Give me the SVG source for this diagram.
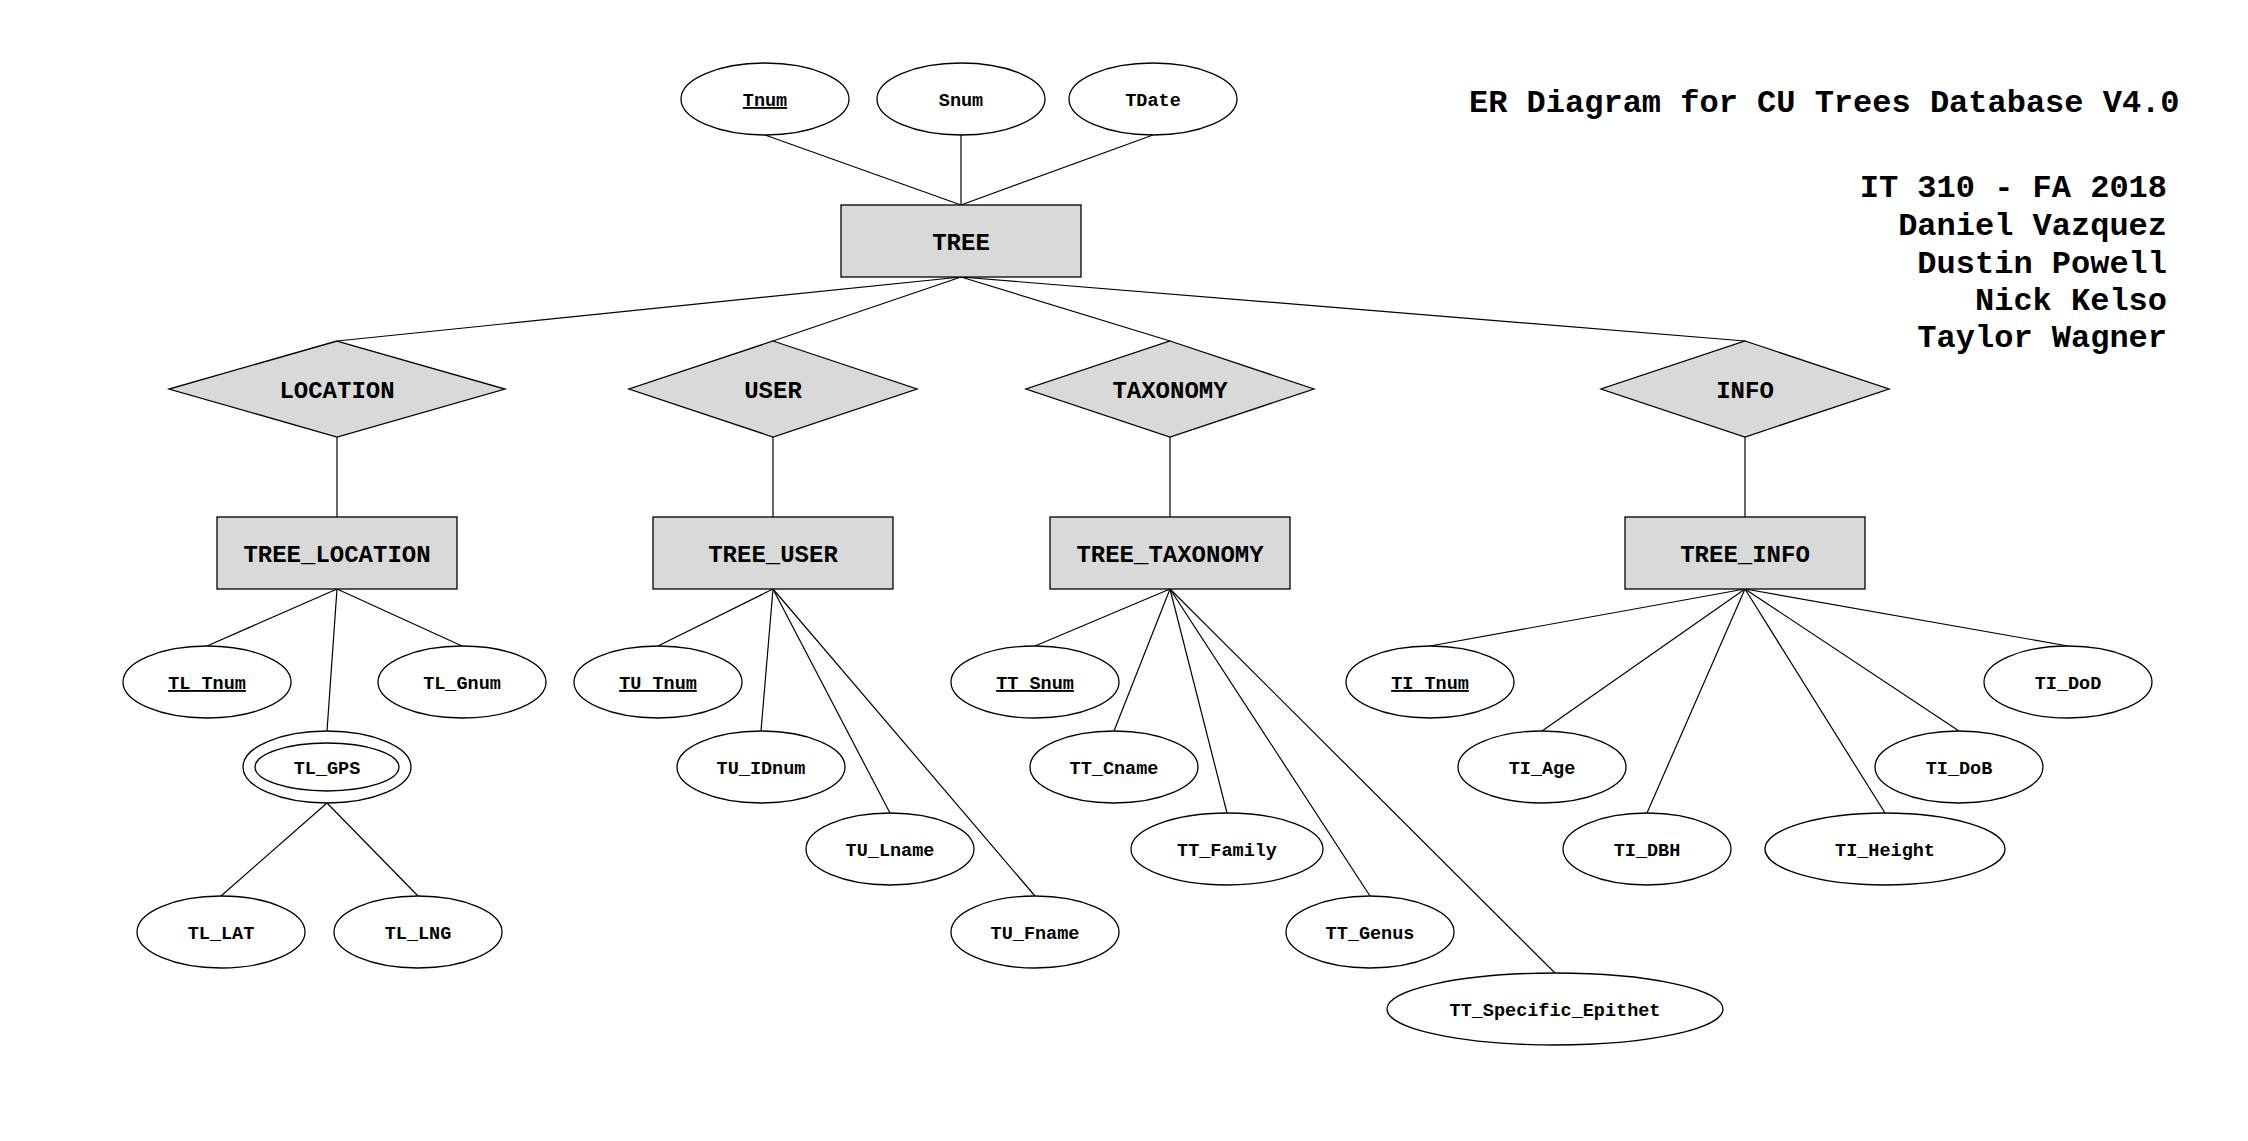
<svg xmlns="http://www.w3.org/2000/svg" width="2248" height="1141" viewBox="0 0 2248 1141">
<style>
  .bg { fill: #ffffff; }
  .ent { fill: #d9d9d9; stroke: #000; stroke-width: 1.3; }
  .rel { fill: #d9d9d9; stroke: #000; stroke-width: 1.3; }
  .att { fill: #ffffff; stroke: #000; stroke-width: 1.3; }
  .conn line { stroke: #000; stroke-width: 1.2; }
  text { font-family: "Liberation Mono", "Courier New", monospace; font-weight: bold; fill: #000; }
  .lbl { font-size: 24px; text-anchor: middle; }
  .albl { font-size: 18.5px; text-anchor: middle; }
  .key { text-decoration: underline; }
  .title { font-size: 32px; }
  .auth { font-size: 32px; text-anchor: end; }
</style>
<rect class="bg" x="0" y="0" width="2248" height="1141"/>

<g id="connectors" class="conn">
  <line x1="765" y1="135" x2="961" y2="205"/>
  <line x1="961" y1="135" x2="961" y2="205"/>
  <line x1="1153" y1="135" x2="961" y2="205"/>
  <line x1="961" y1="277" x2="337" y2="341"/>
  <line x1="961" y1="277" x2="773" y2="341"/>
  <line x1="961" y1="277" x2="1170" y2="341"/>
  <line x1="961" y1="277" x2="1745" y2="341"/>
  <line x1="337" y1="437" x2="337" y2="517"/>
  <line x1="773" y1="437" x2="773" y2="517"/>
  <line x1="1170" y1="437" x2="1170" y2="517"/>
  <line x1="1745" y1="437" x2="1745" y2="517"/>
  <line x1="337" y1="589" x2="207" y2="646"/>
  <line x1="337" y1="589" x2="462" y2="646"/>
  <line x1="337" y1="589" x2="327" y2="731"/>
  <line x1="327" y1="803" x2="221" y2="896"/>
  <line x1="327" y1="803" x2="418" y2="896"/>
  <line x1="773" y1="589" x2="658" y2="646"/>
  <line x1="773" y1="589" x2="761" y2="731"/>
  <line x1="773" y1="589" x2="890" y2="813"/>
  <line x1="773" y1="589" x2="1035" y2="896"/>
  <line x1="1170" y1="589" x2="1035" y2="646"/>
  <line x1="1170" y1="589" x2="1114" y2="731"/>
  <line x1="1170" y1="589" x2="1227" y2="813"/>
  <line x1="1170" y1="589" x2="1370" y2="896"/>
  <line x1="1170" y1="589" x2="1555" y2="973"/>
  <line x1="1745" y1="589" x2="1430" y2="646"/>
  <line x1="1745" y1="589" x2="1542" y2="731"/>
  <line x1="1745" y1="589" x2="1647" y2="813"/>
  <line x1="1745" y1="589" x2="1885" y2="813"/>
  <line x1="1745" y1="589" x2="1959" y2="731"/>
  <line x1="1745" y1="589" x2="2068" y2="646"/>
</g>

<g id="title">
  <text class="title" x="1469" y="112">ER Diagram for CU Trees Database V4.0</text>
  <text class="auth" x="2167" y="197">IT 310 - FA 2018</text>
  <text class="auth" x="2167" y="235">Daniel Vazquez</text>
  <text class="auth" x="2167" y="273">Dustin Powell</text>
  <text class="auth" x="2167" y="310">Nick Kelso</text>
  <text class="auth" x="2167" y="347">Taylor Wagner</text>
</g>

<!-- TREE entity and its attributes -->
<g id="attr-Tnum"><ellipse class="att" cx="765" cy="99" rx="84" ry="36"/><text class="albl key" x="765" y="106">Tnum</text></g>
<g id="attr-Snum"><ellipse class="att" cx="961" cy="99" rx="84" ry="36"/><text class="albl" x="961" y="106">Snum</text></g>
<g id="attr-TDate"><ellipse class="att" cx="1153" cy="99" rx="84" ry="36"/><text class="albl" x="1153" y="106">TDate</text></g>
<g id="ent-TREE"><rect class="ent" x="841" y="205" width="240" height="72"/><text class="lbl" x="961" y="250">TREE</text></g>

<!-- Relationships -->
<g id="rel-LOCATION"><polygon class="rel" points="337,341 505,389 337,437 169,389"/><text class="lbl" x="337" y="398">LOCATION</text></g>
<g id="rel-USER"><polygon class="rel" points="773,341 917,389 773,437 629,389"/><text class="lbl" x="773" y="398">USER</text></g>
<g id="rel-TAXONOMY"><polygon class="rel" points="1170,341 1314,389 1170,437 1026,389"/><text class="lbl" x="1170" y="398">TAXONOMY</text></g>
<g id="rel-INFO"><polygon class="rel" points="1745,341 1889,389 1745,437 1601,389"/><text class="lbl" x="1745" y="398">INFO</text></g>

<!-- Entities -->
<g id="ent-TREE_LOCATION"><rect class="ent" x="217" y="517" width="240" height="72"/><text class="lbl" x="337" y="562">TREE_LOCATION</text></g>
<g id="ent-TREE_USER"><rect class="ent" x="653" y="517" width="240" height="72"/><text class="lbl" x="773" y="562">TREE_USER</text></g>
<g id="ent-TREE_TAXONOMY"><rect class="ent" x="1050" y="517" width="240" height="72"/><text class="lbl" x="1170" y="562">TREE_TAXONOMY</text></g>
<g id="ent-TREE_INFO"><rect class="ent" x="1625" y="517" width="240" height="72"/><text class="lbl" x="1745" y="562">TREE_INFO</text></g>

<!-- TREE_LOCATION attributes -->
<g id="attr-TL_Tnum"><ellipse class="att" cx="207" cy="682" rx="84" ry="36"/><text class="albl key" x="207" y="689">TL_Tnum</text></g>
<g id="attr-TL_Gnum"><ellipse class="att" cx="462" cy="682" rx="84" ry="36"/><text class="albl" x="462" y="689">TL_Gnum</text></g>
<g id="attr-TL_GPS"><ellipse class="att" cx="327" cy="767" rx="84" ry="36"/><ellipse class="att" cx="327" cy="767" rx="72" ry="24"/><text class="albl" x="327" y="774">TL_GPS</text></g>
<g id="attr-TL_LAT"><ellipse class="att" cx="221" cy="932" rx="84" ry="36"/><text class="albl" x="221" y="939">TL_LAT</text></g>
<g id="attr-TL_LNG"><ellipse class="att" cx="418" cy="932" rx="84" ry="36"/><text class="albl" x="418" y="939">TL_LNG</text></g>

<!-- TREE_USER attributes -->
<g id="attr-TU_Tnum"><ellipse class="att" cx="658" cy="682" rx="84" ry="36"/><text class="albl key" x="658" y="689">TU_Tnum</text></g>
<g id="attr-TU_IDnum"><ellipse class="att" cx="761" cy="767" rx="84" ry="36"/><text class="albl" x="761" y="774">TU_IDnum</text></g>
<g id="attr-TU_Lname"><ellipse class="att" cx="890" cy="849" rx="84" ry="36"/><text class="albl" x="890" y="856">TU_Lname</text></g>
<g id="attr-TU_Fname"><ellipse class="att" cx="1035" cy="932" rx="84" ry="36"/><text class="albl" x="1035" y="939">TU_Fname</text></g>

<!-- TREE_TAXONOMY attributes -->
<g id="attr-TT_Snum"><ellipse class="att" cx="1035" cy="682" rx="84" ry="36"/><text class="albl key" x="1035" y="689">TT_Snum</text></g>
<g id="attr-TT_Cname"><ellipse class="att" cx="1114" cy="767" rx="84" ry="36"/><text class="albl" x="1114" y="774">TT_Cname</text></g>
<g id="attr-TT_Family"><ellipse class="att" cx="1227" cy="849" rx="96" ry="36"/><text class="albl" x="1227" y="856">TT_Family</text></g>
<g id="attr-TT_Genus"><ellipse class="att" cx="1370" cy="932" rx="84" ry="36"/><text class="albl" x="1370" y="939">TT_Genus</text></g>
<g id="attr-TT_Specific_Epithet"><ellipse class="att" cx="1555" cy="1009" rx="168" ry="36"/><text class="albl" x="1555" y="1016">TT_Specific_Epithet</text></g>

<!-- TREE_INFO attributes -->
<g id="attr-TI_Tnum"><ellipse class="att" cx="1430" cy="682" rx="84" ry="36"/><text class="albl key" x="1430" y="689">TI_Tnum</text></g>
<g id="attr-TI_Age"><ellipse class="att" cx="1542" cy="767" rx="84" ry="36"/><text class="albl" x="1542" y="774">TI_Age</text></g>
<g id="attr-TI_DBH"><ellipse class="att" cx="1647" cy="849" rx="84" ry="36"/><text class="albl" x="1647" y="856">TI_DBH</text></g>
<g id="attr-TI_Height"><ellipse class="att" cx="1885" cy="849" rx="120" ry="36"/><text class="albl" x="1885" y="856">TI_Height</text></g>
<g id="attr-TI_DoB"><ellipse class="att" cx="1959" cy="767" rx="84" ry="36"/><text class="albl" x="1959" y="774">TI_DoB</text></g>
<g id="attr-TI_DoD"><ellipse class="att" cx="2068" cy="682" rx="84" ry="36"/><text class="albl" x="2068" y="689">TI_DoD</text></g>
</svg>
